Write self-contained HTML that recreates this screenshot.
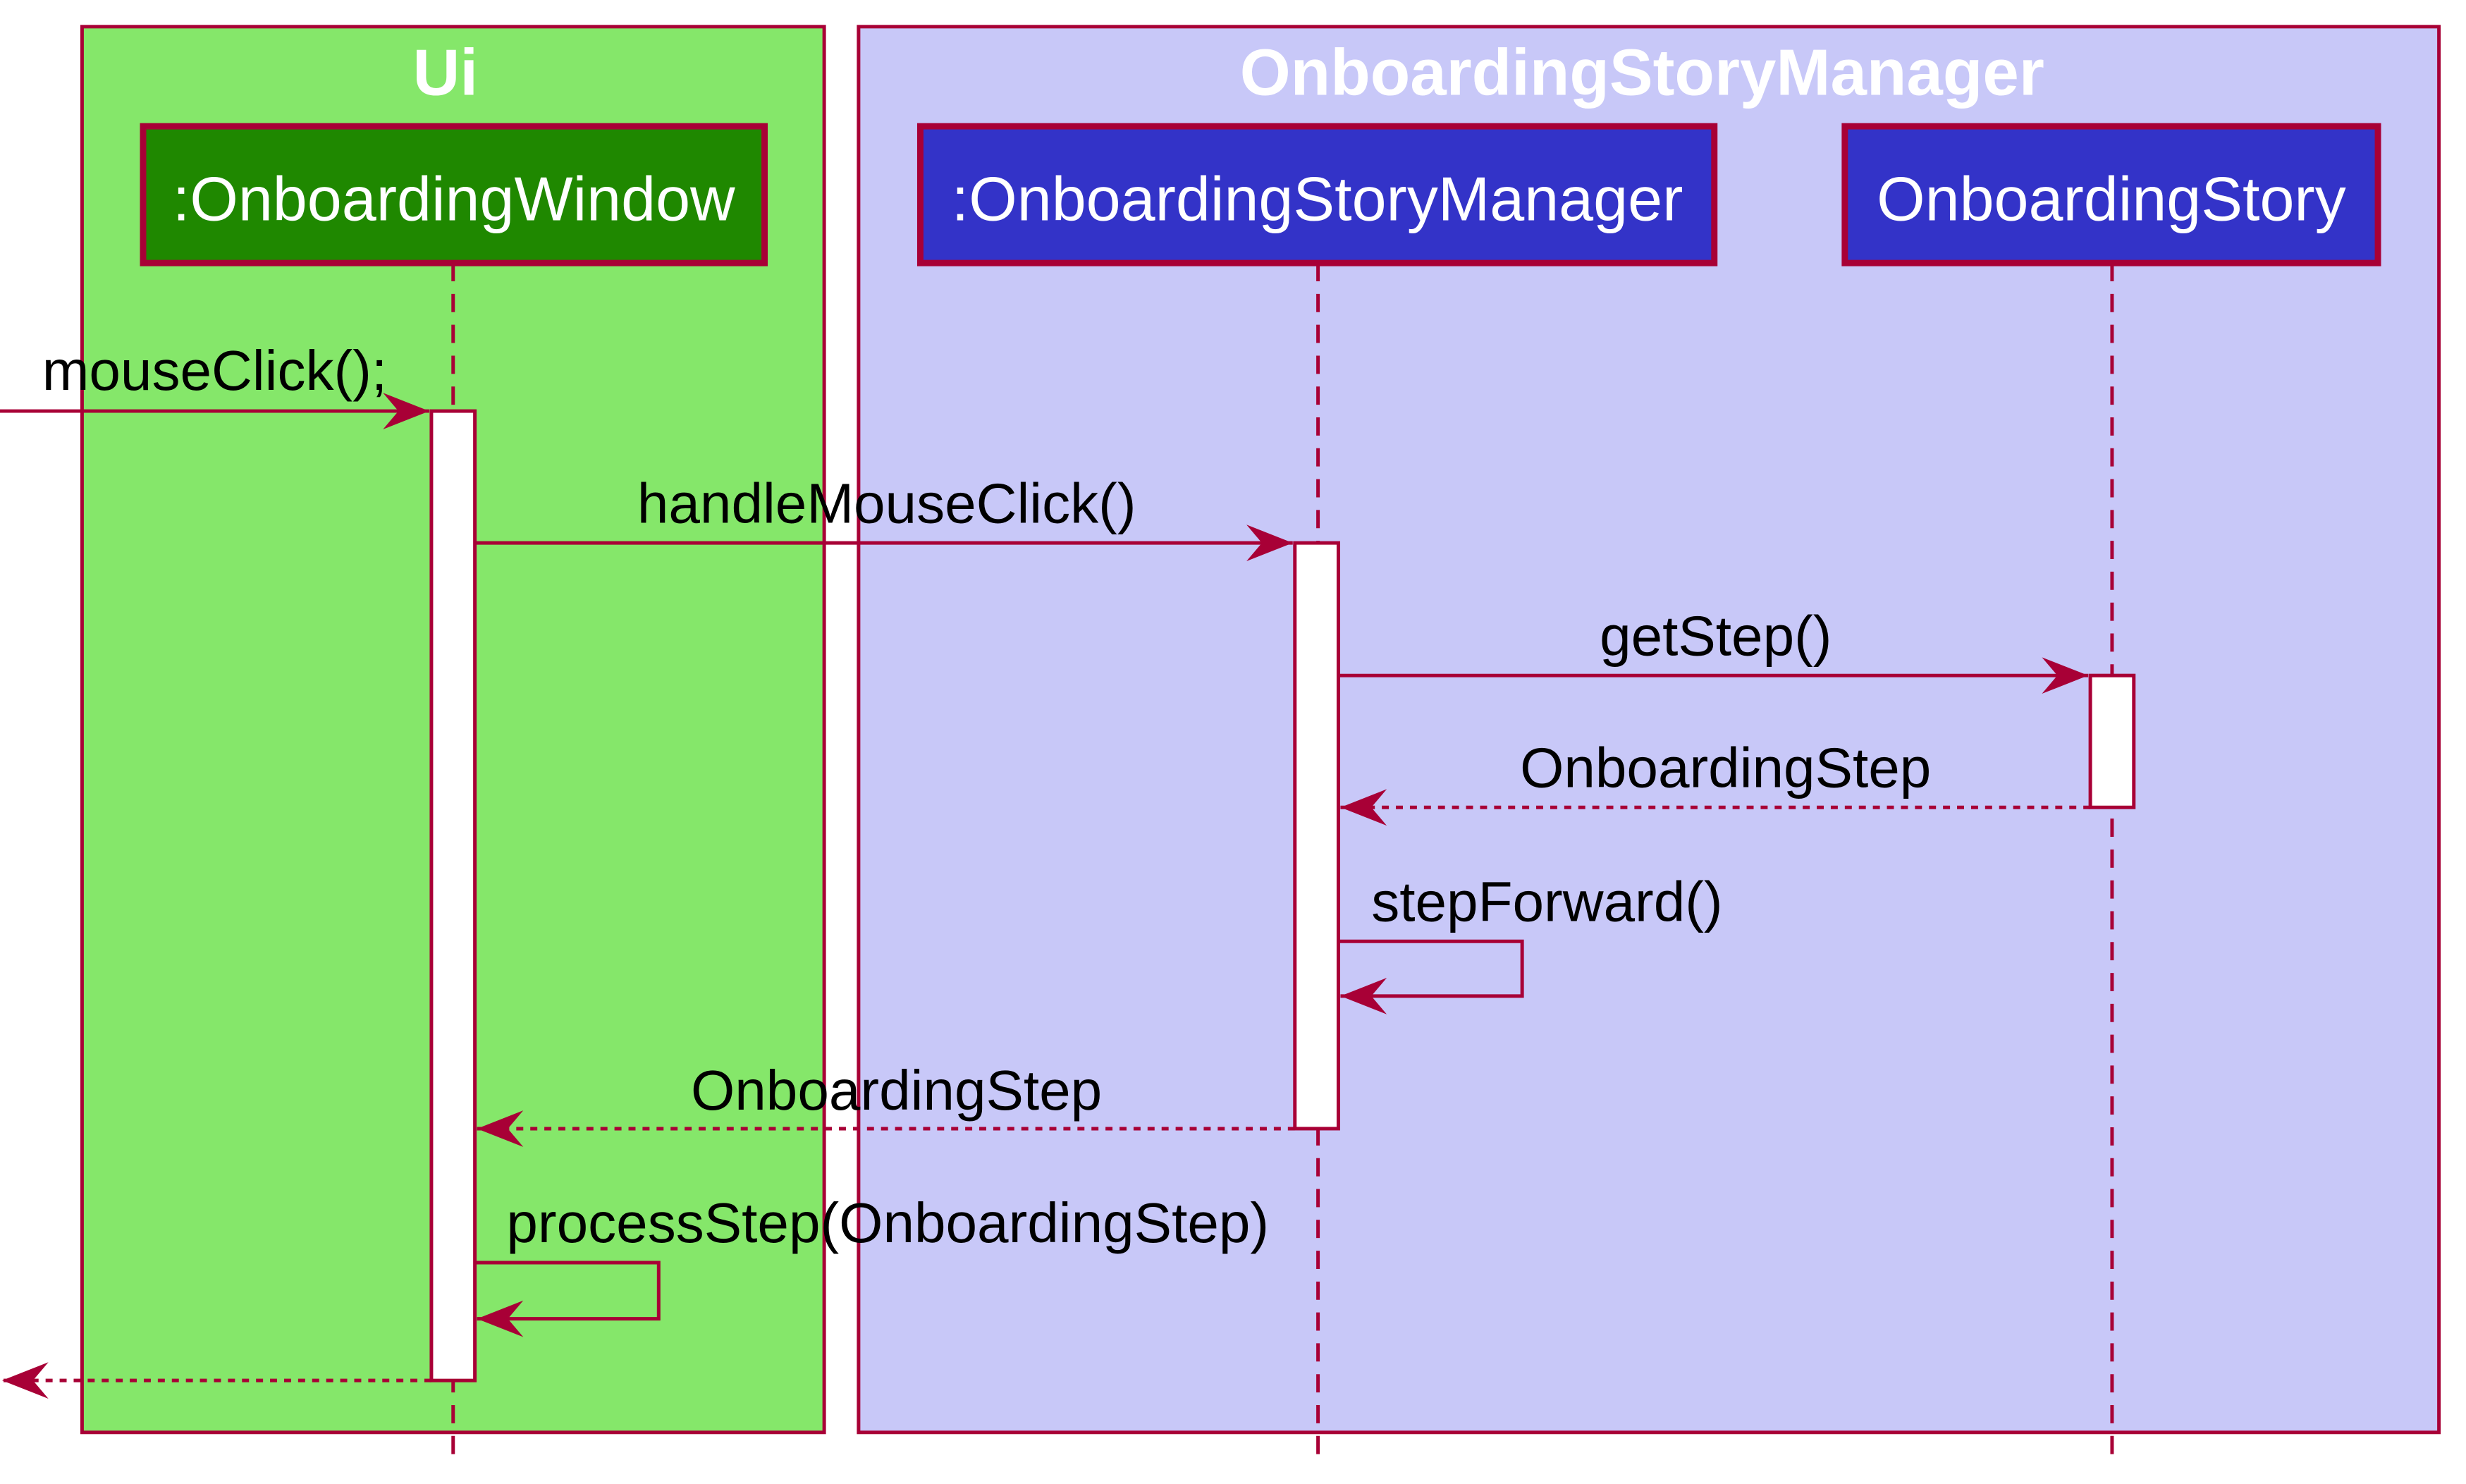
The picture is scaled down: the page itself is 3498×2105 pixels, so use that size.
<!DOCTYPE html>
<html><head><meta charset="utf-8"><style>html,body{margin:0;padding:0;background:#fff}svg{display:block}</style></head>
<body>
<svg width="3498" height="2105" viewBox="0 0 3498 2105" xmlns="http://www.w3.org/2000/svg" font-family="Liberation Sans, Arial, sans-serif">
<defs>
<marker id="ah" markerWidth="80" markerHeight="60" refX="70" refY="28" orient="auto" markerUnits="userSpaceOnUse">
<path d="M4,2 L70,28 L4,54 L26,28 Z" fill="#A80036"/>
</marker>
</defs>
<g transform="scale(0.995)">
<rect x="117" y="38" width="1058" height="2004" fill="#85E76A" stroke="#A80036" stroke-width="5"/>
<rect x="1224" y="38" width="2253" height="2004" fill="#C8C8F8" stroke="#A80036" stroke-width="5"/>
<text x="635" y="135" font-size="93" font-weight="bold" fill="#fff" text-anchor="middle">Ui</text>
<text x="2341" y="135" font-size="93" font-weight="bold" fill="#fff" text-anchor="middle">OnboardingStoryManager</text>

<g stroke="#A80036" stroke-width="5" stroke-dasharray="26,18">
<line x1="646" y1="375" x2="646" y2="2080"/>
<line x1="1879" y1="375" x2="1879" y2="2080"/>
<line x1="3011" y1="375" x2="3011" y2="2080"/>
</g>

<rect x="204" y="180" width="886" height="195" fill="#1F8800" stroke="#A80036" stroke-width="9"/>
<rect x="1312" y="180" width="1132" height="195" fill="#3333C8" stroke="#A80036" stroke-width="9"/>
<rect x="2630" y="180" width="760" height="195" fill="#3333C8" stroke="#A80036" stroke-width="9"/>
<g font-size="88.5" fill="#fff" text-anchor="middle">
<text x="647" y="314">:OnboardingWindow</text>
<text x="1878" y="314">:OnboardingStoryManager</text>
<text x="3010" y="314">OnboardingStory</text>
</g>

<rect x="615" y="586" width="62" height="1382" fill="#fff" stroke="#A80036" stroke-width="5"/>
<rect x="1846" y="774" width="62" height="835" fill="#fff" stroke="#A80036" stroke-width="5"/>
<rect x="2980" y="963" width="62" height="188" fill="#fff" stroke="#A80036" stroke-width="5"/>

<g stroke="#A80036" stroke-width="5" fill="none">
<line x1="0" y1="586" x2="612" y2="586" marker-end="url(#ah)"/>
<line x1="677" y1="774" x2="1843" y2="774" marker-end="url(#ah)"/>
<line x1="1908" y1="963" x2="2977" y2="963" marker-end="url(#ah)"/>
<line x1="2980" y1="1151" x2="1911" y2="1151" stroke-dasharray="10,10" marker-end="url(#ah)"/>
<polyline points="1908,1342 2170,1342 2170,1420 1911,1420" marker-end="url(#ah)"/>
<line x1="1846" y1="1609" x2="680" y2="1609" stroke-dasharray="10,10" marker-end="url(#ah)"/>
<polyline points="677,1800 939,1800 939,1880 680,1880" marker-end="url(#ah)"/>
<line x1="615" y1="1968" x2="3" y2="1968" stroke-dasharray="10,10" marker-end="url(#ah)"/>
</g>

<g font-size="80.5" fill="#000">
<text x="60" y="556">mouseClick();</text>
<text x="1264" y="745" text-anchor="middle">handleMouseClick()</text>
<text x="2446" y="934" text-anchor="middle">getStep()</text>
<text x="2460" y="1122" text-anchor="middle">OnboardingStep</text>
<text x="1955" y="1313">stepForward()</text>
<text x="1278" y="1582" text-anchor="middle">OnboardingStep</text>
<text x="722" y="1771">processStep(OnboardingStep)</text>
</g>
</g>
</svg>
</body></html>
